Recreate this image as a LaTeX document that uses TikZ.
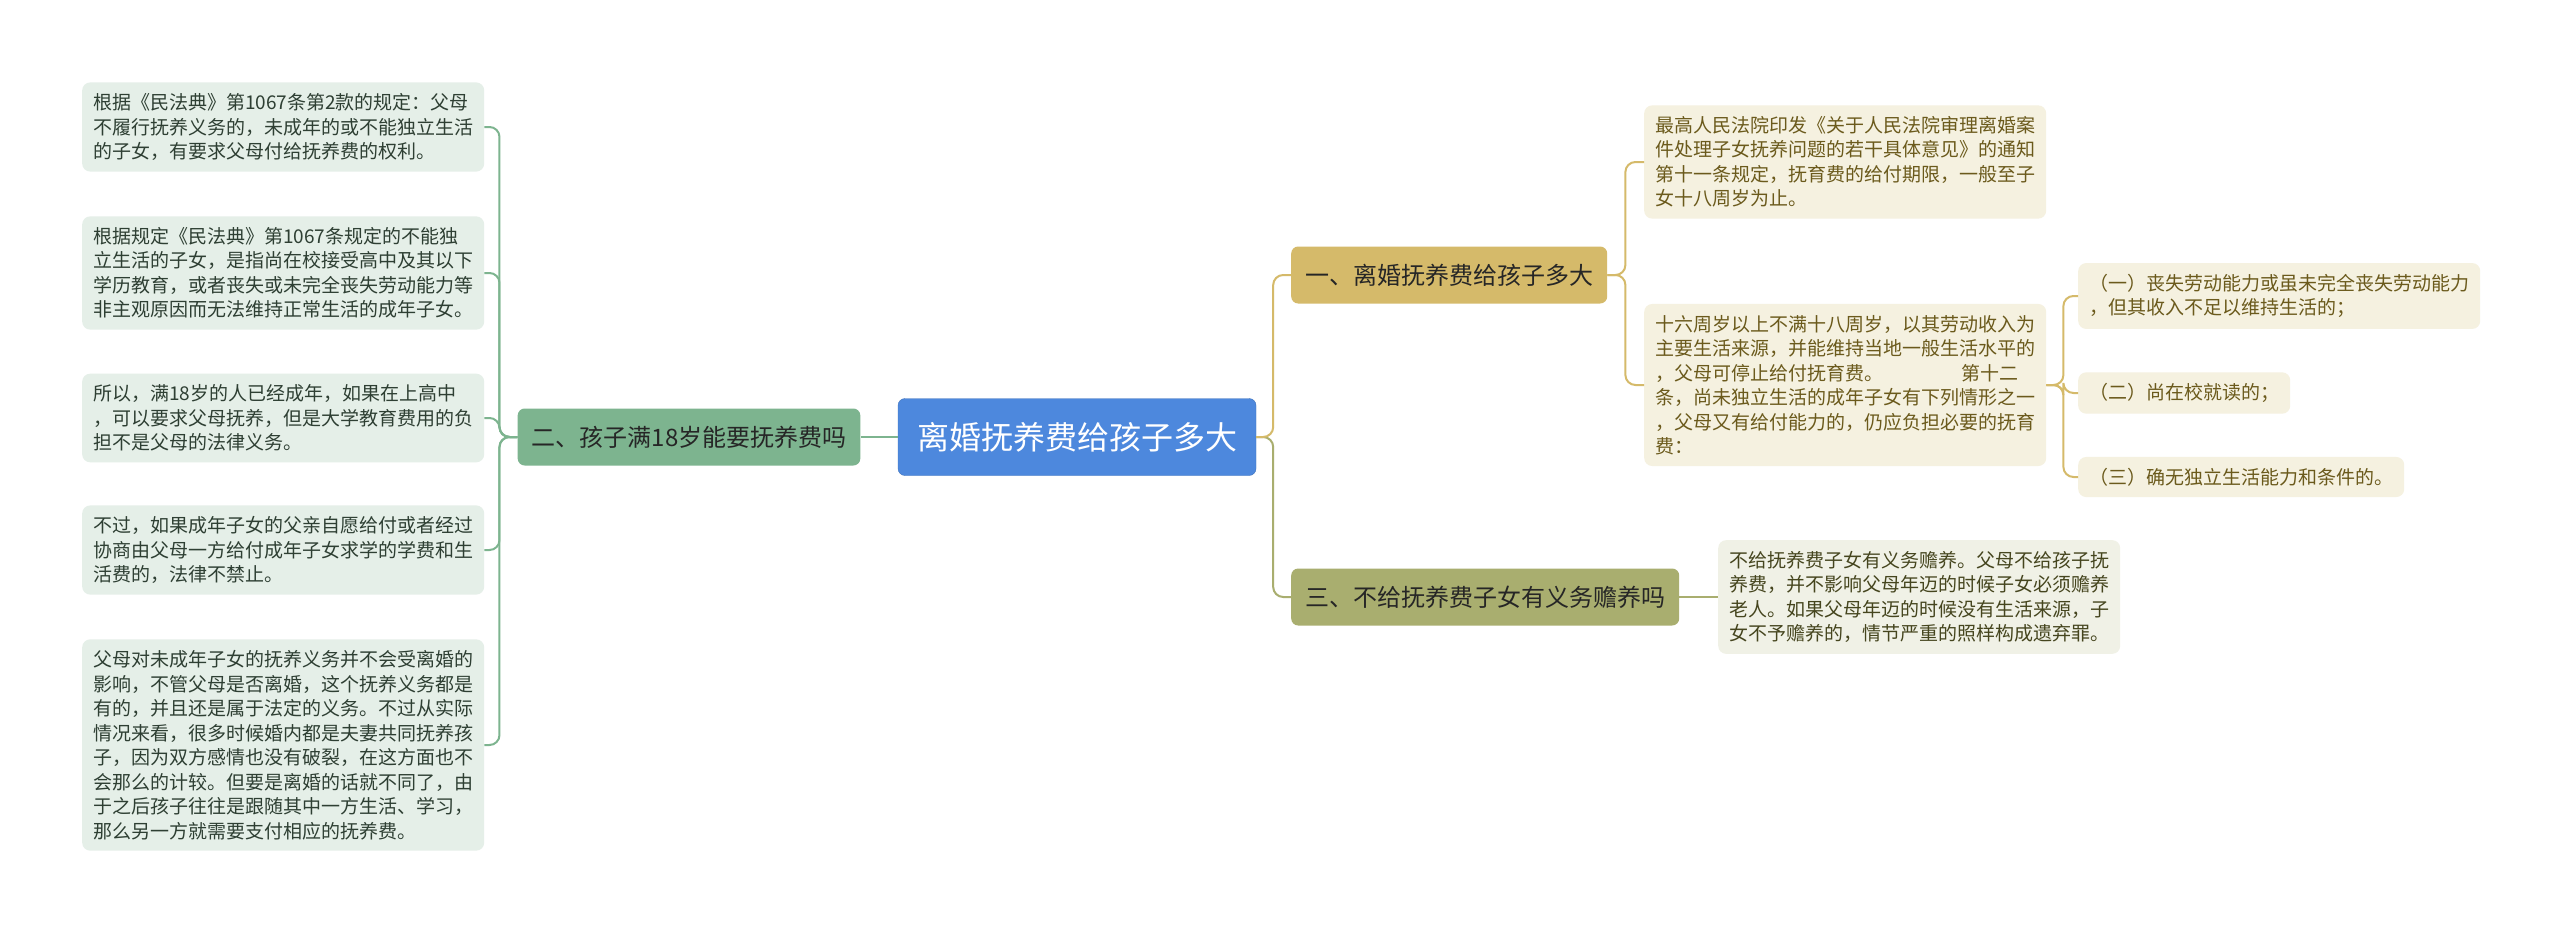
\documentclass[tikz,border=0pt]{standalone}
\usepackage{fontspec}
\setmainfont{Noto Sans CJK SC}
\definecolor{rootblue}{HTML}{4D88DD}
\definecolor{lgreen}{HTML}{7DB48F}
\definecolor{lleaf}{HTML}{E5EFE8}
\definecolor{ltext}{HTML}{2E3F33}
\definecolor{rgold}{HTML}{D5BA6A}
\definecolor{rolive}{HTML}{A9AE6F}
\definecolor{rleaf}{HTML}{F5F1E0}
\definecolor{rtext}{HTML}{6B5A1C}
\definecolor{oleaf}{HTML}{F0F1E6}
\definecolor{otext}{HTML}{45451E}
\begin{document}
\begin{tikzpicture}[
    x=1pt, y=-1pt,
    every node/.style={font=\fontsize{19}{24.5}\selectfont, align=left},
    root/.style={fill=rootblue, draw=rootblue!85!black, rounded corners=7pt, text=white,
        font=\fontsize{32}{36}\selectfont, minimum width=358pt, minimum height=77pt},
    branch/.style={rounded corners=7pt, text=black!85, font=\fontsize{24}{28}\selectfont,
        minimum height=57pt, inner xsep=14pt},
    lleafbox/.style={fill=lleaf, rounded corners=8pt, text=ltext, minimum width=400pt,
        inner xsep=11pt, inner ysep=11pt, anchor=west},
    rleafbox/.style={fill=rleaf, rounded corners=8pt, text=rtext, minimum width=400pt,
        inner xsep=11pt, inner ysep=11pt, anchor=west},
    conn/.style={line width=2pt, rounded corners=10pt}
]
\useasboundingbox[fill=white] (0,0) rectangle (2560,934);

% Root
\node[root] (root) at (1077,437) {离婚抚养费给孩子多大};

% Left side
\node[branch, fill=lgreen] (lb) at (689,437) {二、孩子满18岁能要抚养费吗};
\node[lleafbox] (l1) at (82,127) {根据《民法典》第1067条第2款的规定：父母\\不履行抚养义务的，未成年的或不能独立生活\\的子女，有要求父母付给抚养费的权利。};
\node[lleafbox] (l2) at (82,273) {根据规定《民法典》第1067条规定的不能独\\立生活的子女，是指尚在校接受高中及其以下\\学历教育，或者丧失或未完全丧失劳动能力等\\非主观原因而无法维持正常生活的成年子女。};
\node[lleafbox] (l3) at (82,418) {所以，满18岁的人已经成年，如果在上高中\\，可以要求父母抚养，但是大学教育费用的负\\担不是父母的法律义务。};
\node[lleafbox] (l4) at (82,550) {不过，如果成年子女的父亲自愿给付或者经过\\协商由父母一方给付成年子女求学的学费和生\\活费的，法律不禁止。};
\node[lleafbox] (l5) at (82,745) {父母对未成年子女的抚养义务并不会受离婚的\\影响，不管父母是否离婚，这个抚养义务都是\\有的，并且还是属于法定的义务。不过从实际\\情况来看，很多时候婚内都是夫妻共同抚养孩\\子，因为双方感情也没有破裂，在这方面也不\\会那么的计较。但要是离婚的话就不同了，由\\于之后孩子往往是跟随其中一方生活、学习，\\那么另一方就需要支付相应的抚养费。};

\draw[conn, lgreen] (root.west) -- (lb.east);
\foreach \n in {l1,l2,l3,l4,l5}
    \draw[conn, lgreen] (lb.west) -- ++(-18,0) |- (\n.east);

% Right side
\node[branch, fill=rgold, anchor=west] (r1) at (1291,275) {一、离婚抚养费给孩子多大};
\node[branch, fill=rolive, anchor=west] (r3) at (1291,597) {三、不给抚养费子女有义务赡养吗};
\node[rleafbox] (r1a) at (1644,162) {最高人民法院印发《关于人民法院审理离婚案\\件处理子女抚养问题的若干具体意见》的通知\\第十一条规定，抚育费的给付期限，一般至子\\女十八周岁为止。};
\node[rleafbox] (r1b) at (1644,385) {十六周岁以上不满十八周岁，以其劳动收入为\\主要生活来源，并能维持当地一般生活水平的\\，父母可停止给付抚育费。\hspace{78pt}第十二\\条，尚未独立生活的成年子女有下列情形之一\\，父母又有给付能力的，仍应负担必要的抚育\\费：};
\node[rleafbox, minimum width=0pt] (s1) at (2078,296) {（一）丧失劳动能力或虽未完全丧失劳动能力\\，但其收入不足以维持生活的；};
\node[rleafbox, minimum width=0pt] (s2) at (2078,393) {（二）尚在校就读的；};
\node[rleafbox, minimum width=0pt] (s3) at (2078,477) {（三）确无独立生活能力和条件的。};
\node[rleafbox, fill=oleaf, text=otext] (r3a) at (1718,597) {不给抚养费子女有义务赡养。父母不给孩子抚\\养费，并不影响父母年迈的时候子女必须赡养\\老人。如果父母年迈的时候没有生活来源，子\\女不予赡养的，情节严重的照样构成遗弃罪。};

\draw[conn, rolive] (root.east) -- ++(17,0) |- (r3.west);
\draw[conn, rgold] (root.east) -- ++(17,0) |- (r1.west);
\foreach \n in {r1a,r1b}
    \draw[conn, rgold] (r1.east) -- ++(18,0) |- (\n.west);
\foreach \n in {s1,s2,s3}
    \draw[conn, rgold] (r1b.east) -- ++(17,0) |- (\n.west);
\draw[conn, rolive] (r3.east) -- (r3a.west);
\end{tikzpicture}
\end{document}
